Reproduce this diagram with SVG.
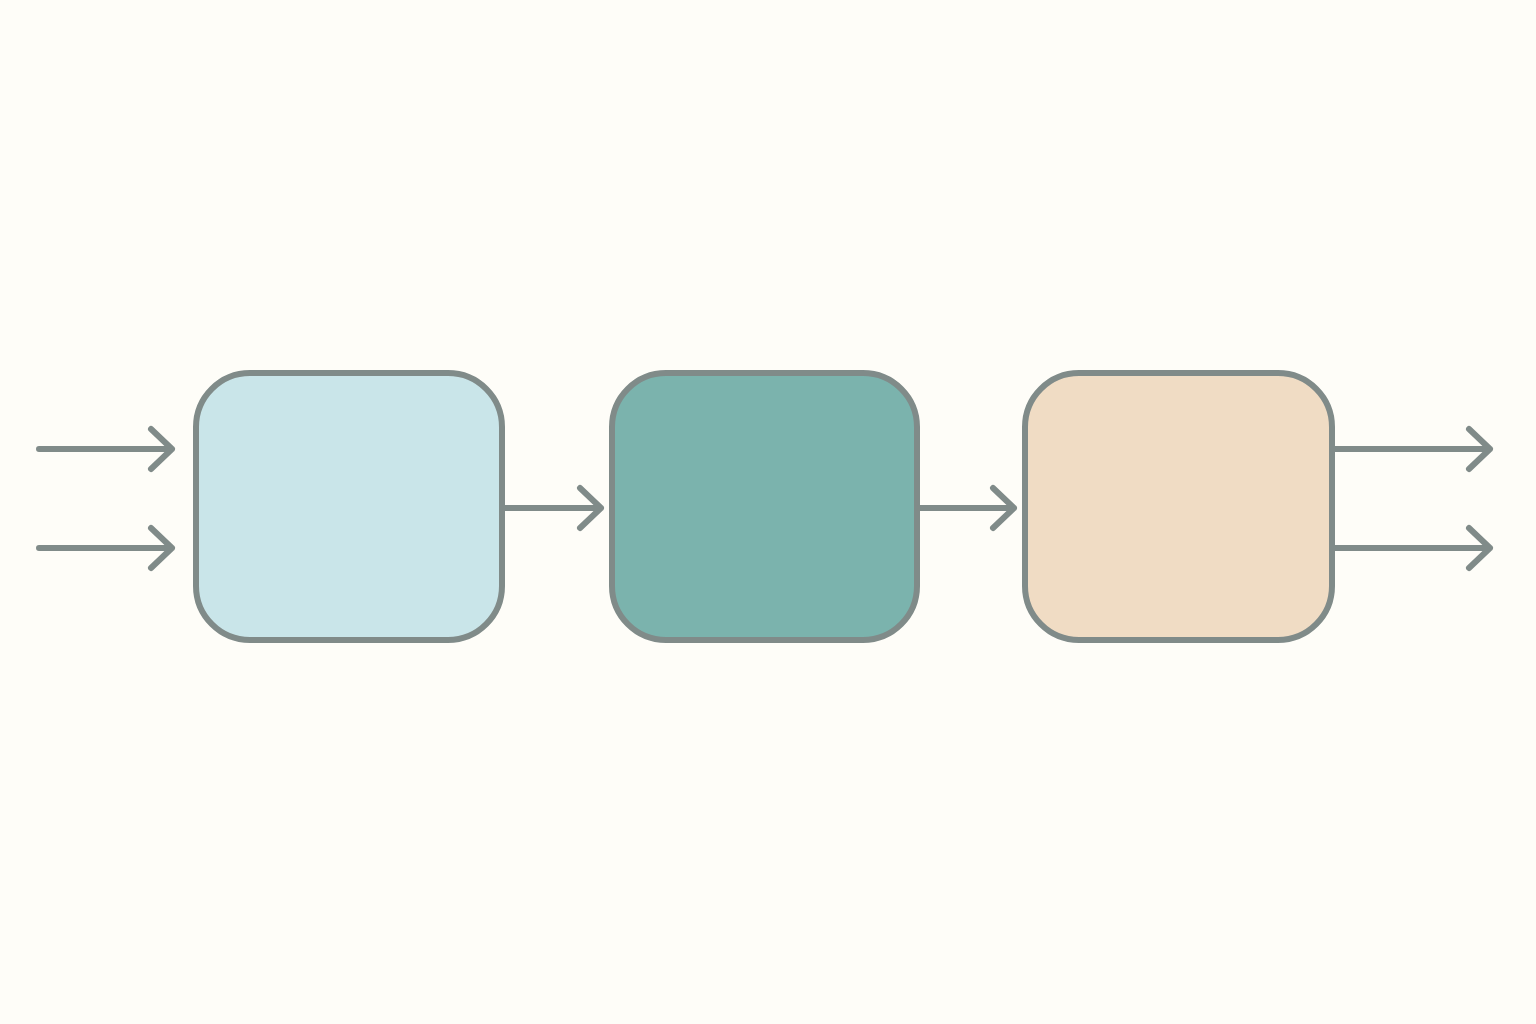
<svg xmlns="http://www.w3.org/2000/svg" width="1536" height="1024" viewBox="0 0 1536 1024">
<style>
.box{stroke:#808b89;stroke-width:6}
.ln{stroke:#808b89;stroke-width:6;stroke-linecap:round;stroke-linejoin:round;fill:none}
</style>
<rect width="1536" height="1024" fill="#fefdf8"/>
<g id="node1"><rect class="box" x="196" y="373" width="306" height="267" rx="54" fill="#c9e5e9"/></g>
<g id="node2"><rect class="box" x="612" y="373" width="305" height="267" rx="54" fill="#7bb3ad"/></g>
<g id="node3"><rect class="box" x="1025" y="373" width="307" height="267" rx="54" fill="#f0dcc4"/></g>
<g id="connectors">
<path class="ln" d="M39 449H172M151 429L172 449L151 469"/>
<path class="ln" d="M39 548H172M151 528L172 548L151 568"/>
<path class="ln" d="M505 508H601M580 488L601 508L580 528"/>
<path class="ln" d="M920 508H1014M993 488L1014 508L993 528"/>
<path class="ln" d="M1335 449H1490M1469 429L1490 449L1469 469"/>
<path class="ln" d="M1335 548H1490M1469 528L1490 548L1469 568"/>
</g>
</svg>
